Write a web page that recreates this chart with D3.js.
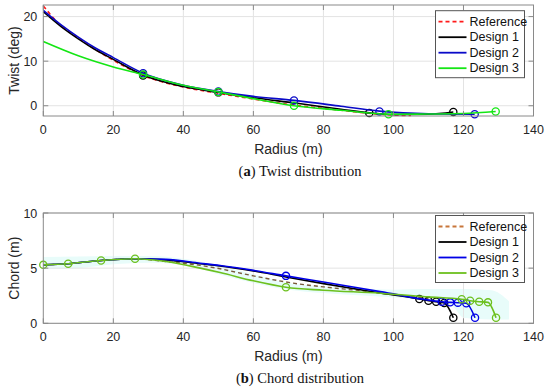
<!DOCTYPE html>
<html>
<head>
<meta charset="utf-8">
<script src="https://cdn.jsdelivr.net/npm/d3@7"></script>
<style>
  body { margin: 0; background: #fff; }
  svg { display: block; }
  .tick_label { font-family: "Liberation Sans", Arial, sans-serif; font-size: 12.5px; fill: #262626; }
  .axis_label { font-family: "Liberation Sans", Arial, sans-serif; font-size: 14px; fill: #262626; }
  .caption { font-family: "Liberation Serif", "Times New Roman", serif; font-size: 14.5px; fill: #111; }
  .legend_text { font-family: "Liberation Sans", Arial, sans-serif; font-size: 12.5px; fill: #111; }
</style>
</head>
<body>
<svg id="chart" width="550" height="391"></svg>
<script>
// Shared x ticks
var radiusTicks = [0, 20, 40, 60, 80, 100, 120, 140];

// ---- (a) Twist distribution ----
var twistTicks = [0, 10, 20];

var twistRefR   = [0, 4.3, 10, 14.3, 20, 28.5, 40, 50, 60, 72, 85, 93, 100, 105];
var twistRefV   = [22.4, 18.5, 15.2, 12.9, 10.2, 6.8, 4.2, 2.8, 1.5, 0.1, -1.0, -1.7, -2.1, -2.2];

var twistD1R    = [0, 5, 10, 15, 20, 28.5, 40, 50, 60, 72, 85, 93.1, 100, 110, 117.1];
var twistD1V    = [21.1, 17.8, 15.0, 12.5, 10.4, 6.9, 4.3, 3.0, 1.8, 0.6, -0.8, -1.6, -2.0, -1.9, -1.4];
var twistD1MarkR = [28.5, 50, 93.1, 117.1];
var twistD1MarkV = [6.8, 3.0, -1.6, -1.4];

var twistD2R    = [0, 5, 10, 15, 20, 28.5, 40, 50, 60, 71.6, 85, 96, 110, 123.2];
var twistD2V    = [21.4, 18.2, 15.4, 12.9, 10.8, 7.3, 4.6, 3.2, 2.1, 1.2, -0.1, -1.2, -1.8, -1.9];
var twistD2MarkR = [28.5, 50, 71.6, 96, 123.2];
var twistD2MarkV = [7.3, 3.2, 1.2, -1.3, -1.9];

var twistD3R    = [0, 10, 20, 28.5, 40, 50, 60, 71.6, 85, 98.6, 110, 120, 129.2];
var twistD3V    = [14.4, 11.2, 8.7, 7.0, 4.6, 3.1, 1.6, 0.0, -1.0, -1.9, -1.85, -1.75, -1.3];
var twistD3MarkR = [28.5, 50, 71.6, 98.6, 129.2];
var twistD3MarkV = [7.0, 3.1, 0.0, -1.9, -1.3];

// ---- (b) Chord distribution ----
var chordTicks = [0, 5, 10];

var chordRefR   = [0, 7.1, 16.5, 26.2, 35, 44.8, 49.5, 60, 71.4, 80, 90.5, 100, 110];
var chordRefV   = [5.3, 5.4, 5.7, 5.85, 5.6, 5.25, 5.0, 4.3, 3.64, 3.3, 2.96, 2.6, 2.25];

var chordD1R    = [0, 7.1, 16.5, 26.2, 35, 44.8, 50.5, 60, 69.3, 80, 96.2, 107.4, 110, 112.2, 114.5, 117.1];
var chordD1V    = [5.3, 5.4, 5.7, 5.85, 5.75, 5.4, 5.2, 4.75, 4.2, 3.6, 2.75, 2.2, 2.05, 1.95, 1.85, 0.5];
var chordD1MarkR = [107.4, 110, 112.2, 114.5, 117.1];
var chordD1MarkV = [2.2, 2.05, 1.95, 1.85, 0.5];

var chordD2R    = [0, 7.1, 16.5, 26.2, 35, 44.8, 50.5, 60, 69.3, 80, 96.2, 113.8, 116.2, 118.4, 120.8, 123.3];
var chordD2V    = [5.3, 5.4, 5.7, 5.85, 5.8, 5.45, 5.24, 4.8, 4.3, 3.75, 2.87, 1.96, 1.9, 1.87, 1.82, 0.5];
var chordD2MarkR = [69.3, 113.8, 116.2, 118.4, 120.8, 123.3];
var chordD2MarkV = [4.3, 1.96, 1.9, 1.87, 1.82, 0.5];

var chordD3R    = [0, 7.1, 16.5, 26.2, 35, 44.8, 50.5, 60, 69.3, 80, 96.2, 110, 119.5, 121.9, 124.5, 127, 129.3];
var chordD3V    = [5.3, 5.4, 5.7, 5.85, 5.6, 5.0, 4.6, 3.85, 3.27, 3.0, 2.73, 2.4, 2.18, 2.05, 1.96, 1.9, 0.5];
var chordD3MarkR = [0, 7.1, 16.5, 26.2, 69.3, 119.5, 121.9, 124.5, 127, 129.3];
var chordD3MarkV = [5.3, 5.4, 5.7, 5.85, 3.27, 2.18, 2.05, 1.96, 1.9, 0.5];

// Light cyan band under chord curves
var bandRadius = [0, 10, 20, 30, 40, 50, 60, 70, 80, 90, 100, 110, 117, 120, 128, 133];
var bandUpper  = [6.0, 6.05, 6.1, 6.1, 5.85, 5.25, 4.45, 3.65, 3.35, 3.15, 3.05, 3.1, 3.1, 3.1, 3.0, 2.0];
var bandLower  = [4.9, 5.0, 5.35, 5.5, 5.3, 4.45, 3.65, 3.05, 2.75, 2.55, 2.35, 2.05, 1.5, 0.5, 0.35, 0.35];

var legendNames = ["Reference", "Design 1", "Design 2", "Design 3"];

// zip two arrays into points
function zipPts(r, v) {
  return r.map(function(d, i) { return [d, v[i]]; });
}

var svg = d3.select("#chart");

// Draw one panel (axes, grid, lines, markers, legend, captions)
function drawPanel(cfg) {

  var x = d3.scaleLinear().domain([0, 140]).range([43.3, 533.5]);
  var y = d3.scaleLinear().domain(cfg.yDomain).range([cfg.bottom, cfg.top]);

  var g = svg.append("g");
  var left = x.range()[0], right = x.range()[1];

  // optional band
  if (cfg.band) {
    g.append("path")
      .datum(cfg.band)
      .attr("fill", "#e8fcfa")
      .attr("d", d3.area()
        .x(function(d) { return x(d[0]); })
        .y0(function(d) { return y(d[1]); })
        .y1(function(d) { return y(d[2]); })
        .curve(d3.curveMonotoneX));
  }

  // grid lines
  g.selectAll(".vgrid").data(radiusTicks.slice(1, -1)).enter()
    .append("line")
      .attr("x1", function(d) { return x(d); }).attr("x2", function(d) { return x(d); })
      .attr("y1", cfg.top).attr("y2", cfg.bottom)
      .attr("stroke", "#e3e3e3").attr("stroke-width", 1);

  g.selectAll(".hgrid").data(cfg.yTicks).enter()
    .append("line")
      .attr("x1", left).attr("x2", right)
      .attr("y1", function(d) { return y(d); }).attr("y2", function(d) { return y(d); })
      .attr("stroke", "#e3e3e3").attr("stroke-width", 1);

  // series lines
  var line = d3.line()
    .x(function(d) { return x(d[0]); })
    .y(function(d) { return y(d[1]); })
    .curve(d3.curveMonotoneX);

  cfg.series.forEach(function(s) {
    g.append("path")
      .datum(s.pts)
      .attr("fill", "none")
      .attr("stroke", s.color)
      .attr("stroke-width", s.width || 1.6)
      .attr("stroke-dasharray", s.dash || null)
      .attr("d", line);

    if (s.marks) {
      g.selectAll(null).data(s.marks).enter()
        .append("circle")
          .attr("cx", function(d) { return x(d[0]); })
          .attr("cy", function(d) { return y(d[1]); })
          .attr("r", 3.6)
          .attr("fill", "none")
          .attr("stroke", s.color)
          .attr("stroke-width", 1.3);
    }
  });

  // axes box
  g.append("rect")
    .attr("x", left).attr("y", cfg.top)
    .attr("width", right - left).attr("height", cfg.bottom - cfg.top)
    .attr("fill", "none").attr("stroke", "#8a8a8a").attr("stroke-width", 1);

  // inward ticks on all sides
  radiusTicks.forEach(function(t) {
    g.append("line").attr("x1", x(t)).attr("x2", x(t)).attr("y1", cfg.bottom).attr("y2", cfg.bottom - 5).attr("stroke", "#8a8a8a");
    g.append("line").attr("x1", x(t)).attr("x2", x(t)).attr("y1", cfg.top).attr("y2", cfg.top + 5).attr("stroke", "#8a8a8a");
  });
  cfg.yTicks.forEach(function(t) {
    g.append("line").attr("x1", left).attr("x2", left + 5).attr("y1", y(t)).attr("y2", y(t)).attr("stroke", "#8a8a8a");
    g.append("line").attr("x1", right).attr("x2", right - 5).attr("y1", y(t)).attr("y2", y(t)).attr("stroke", "#8a8a8a");
  });

  // tick labels
  g.selectAll(".xt").data(radiusTicks).enter()
    .append("text")
      .attr("class", "tick_label")
      .attr("x", function(d) { return x(d); })
      .attr("y", cfg.bottom + 18)
      .attr("text-anchor", "middle")
      .text(function(d) { return d; });

  g.selectAll(".yt").data(cfg.yTicks).enter()
    .append("text")
      .attr("class", "tick_label")
      .attr("x", left - 6)
      .attr("y", function(d) { return y(d) + 4.5; })
      .attr("text-anchor", "end")
      .text(function(d) { return d; });

  // axis labels
  g.append("text")
    .attr("class", "axis_label")
    .attr("x", (left + right) / 2)
    .attr("y", cfg.bottom + 38)
    .attr("text-anchor", "middle")
    .text("Radius (m)");

  g.append("text")
    .attr("class", "axis_label")
    .attr("transform", "translate(19," + ((cfg.top + cfg.bottom) / 2) + ") rotate(-90)")
    .attr("text-anchor", "middle")
    .text(cfg.yLabel);

  // caption with bold letter
  var cap = g.append("text")
    .attr("class", "caption")
    .attr("x", 300)
    .attr("y", cfg.bottom + 60)
    .attr("text-anchor", "middle");
  cap.append("tspan").text("(");
  cap.append("tspan").attr("font-weight", "bold").text(cfg.letter);
  cap.append("tspan").text(") " + cfg.caption);

  // legend
  var lg = g.append("g").attr("transform", "translate(435.5," + cfg.legendTop + ")");
  lg.append("rect")
    .attr("width", 89).attr("height", 67)
    .attr("fill", "#fff").attr("stroke", "#555").attr("stroke-width", 1);

  cfg.series.forEach(function(s, i) {
    var ly = 11 + i * 15.5;
    lg.append("line")
      .attr("x1", 3).attr("x2", 31)
      .attr("y1", ly).attr("y2", ly)
      .attr("stroke", s.legendColor || s.color)
      .attr("stroke-width", 1.8)
      .attr("stroke-dasharray", s.dash || null);
    lg.append("text")
      .attr("class", "legend_text")
      .attr("x", 34).attr("y", ly + 4.3)
      .text(legendNames[i]);
  });
}

// (a) Twist
drawPanel({
  top: 5, bottom: 116,
  yDomain: [-2.3, 22.6],
  yTicks: twistTicks,
  yLabel: "Twist (deg)",
  letter: "a", caption: "Twist distribution",
  legendTop: 10.7,
  series: [
    { color: "#ff1a1a", dash: "4,3", pts: zipPts(twistRefR, twistRefV) },
    { color: "#000000", pts: zipPts(twistD1R, twistD1V), marks: zipPts(twistD1MarkR, twistD1MarkV) },
    { color: "#0a0ac8", pts: zipPts(twistD2R, twistD2V), marks: zipPts(twistD2MarkR, twistD2MarkV) },
    { color: "#14e614", pts: zipPts(twistD3R, twistD3V), marks: zipPts(twistD3MarkR, twistD3MarkV) }
  ]
});

// (b) Chord
drawPanel({
  top: 213, bottom: 323.3,
  yDomain: [0, 10],
  yTicks: chordTicks,
  yLabel: "Chord (m)",
  letter: "b", caption: "Chord distribution",
  legendTop: 215.5,
  band: bandRadius.map(function(r, i) { return [r, bandLower[i], bandUpper[i]]; }),
  series: [
    { color: "#7a5a3a", legendColor: "#c8763a", dash: "4,3", width: 1.4, pts: zipPts(chordRefR, chordRefV) },
    { color: "#000000", pts: zipPts(chordD1R, chordD1V), marks: zipPts(chordD1MarkR, chordD1MarkV) },
    { color: "#0000e6", pts: zipPts(chordD2R, chordD2V), marks: zipPts(chordD2MarkR, chordD2MarkV) },
    { color: "#6cc01e", pts: zipPts(chordD3R, chordD3V), marks: zipPts(chordD3MarkR, chordD3MarkV) }
  ]
});
</script>
</body>
</html>
